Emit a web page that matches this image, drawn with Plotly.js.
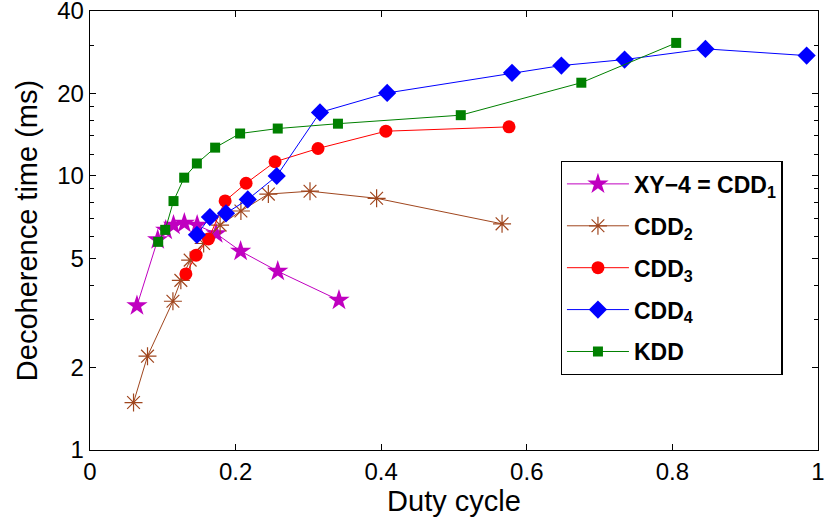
<!DOCTYPE html>
<html>
<head>
<meta charset="utf-8">
<script src="https://cdn.plot.ly/plotly-3.0.1.min.js"></script>
<style>html,body{margin:0;padding:0;background:#fff;}#chart{width:825px;height:527px;}</style>
</head>
<body>
<div id="chart"></div>
<script>
// ---- data ----
const seriesNames = ['XY\u22124 = CDD<sub>1</sub>', 'CDD<sub>2</sub>', 'CDD<sub>3</sub>', 'CDD<sub>4</sub>', 'KDD'];

const xy4_x = [0.0645, 0.0930, 0.1040, 0.1147, 0.1296, 0.1472, 0.1733, 0.2069, 0.2579, 0.3420];
const xy4_y = [3.36, 5.85, 6.34, 6.61, 6.72, 6.61, 6.16, 5.32, 4.49, 3.52];

const cdd2_x = [0.0598, 0.0790, 0.1139, 0.1248, 0.1376, 0.1561, 0.1787, 0.2073, 0.2450, 0.3022, 0.3937, 0.5660];
const cdd2_y = [1.49, 2.20, 3.49, 4.16, 4.93, 5.67, 6.62, 7.45, 8.59, 8.80, 8.29, 6.69];

const cdd3_x = [0.1317, 0.1458, 0.1627, 0.1856, 0.2144, 0.2542, 0.3132, 0.4064, 0.5756];
const cdd3_y = [4.39, 5.14, 5.89, 8.11, 9.41, 11.27, 12.60, 14.57, 15.11];

const cdd4_x = [0.1469, 0.1647, 0.1868, 0.2167, 0.2565, 0.3159, 0.4082, 0.5797, 0.6475, 0.7343, 0.8454, 0.9844];
const cdd4_y = [6.10, 7.08, 7.31, 8.21, 10.0, 17.06, 20.09, 23.8, 25.3, 26.6, 29.1, 27.5];

const kdd_x = [0.0937, 0.1033, 0.1147, 0.1294, 0.1468, 0.1719, 0.2062, 0.2579, 0.3406, 0.5093, 0.6749, 0.8052];
const kdd_y = [5.75, 6.36, 8.10, 9.86, 11.11, 12.69, 14.29, 14.90, 15.52, 16.67, 21.9, 30.6];

const xTickVals = [0, 0.2, 0.4, 0.6, 0.8, 1];
const xTickText = ['0', '0.2', '0.4', '0.6', '0.8', '1'];
const yTickVals = [1, 2, 5, 10, 20, 40];
const yTickText = ['1', '2', '5', '10', '20', '40'];
const yMinorVals = [3, 4, 6, 7, 8, 9, 12, 14, 16, 18, 30];

// ---- styles ----
const colors = ['#c000c0', '#a0461e', '#ff0000', '#0000ff', '#008000'];

function tr(x, y, i, sym, size, extra) {
  const m = Object.assign({symbol: sym, size: size, color: colors[i], line: {width: 0}}, extra || {});
  return {
    x: x, y: y, type: 'scatter', mode: 'lines+markers',
    name: '<b>' + seriesNames[i] + '</b>',
    legendgroup: 'g' + i,
    line: {color: colors[i], width: 1},
    marker: m
  };
}

const data = [
  tr(xy4_x, xy4_y, 0, 'star', 16),
  tr(cdd2_x, cdd2_y, 1, 'asterisk-open', 15, {line: {color: colors[1], width: 1.2}}),
  tr(cdd3_x, cdd3_y, 2, 'circle', 13),
  tr(cdd4_x, cdd4_y, 3, 'diamond', 14),
  tr(kdd_x, kdd_y, 4, 'square', 10)
];

const tickFont = {family: 'Liberation Sans, Arial, sans-serif', size: 24, color: '#000'};

const layout = {
  width: 825, height: 527,
  margin: {l: 90, r: 7, t: 11, b: 77},
  paper_bgcolor: '#fff', plot_bgcolor: '#fff',
  showlegend: true,
  xaxis: {
    range: [0, 1], tickmode: 'array', tickvals: xTickVals, ticktext: xTickText,
    ticks: 'inside', ticklen: 6, tickwidth: 1, tickcolor: '#000',
    showline: true, linecolor: '#000', linewidth: 1.3, mirror: 'ticks',
    showgrid: false, zeroline: false, tickfont: tickFont, ticklabeloverflow: 'allow',
    title: {text: 'Duty cycle', font: {family: 'Liberation Sans, Arial, sans-serif', size: 29, color: '#000'}, standoff: 5}
  },
  yaxis: {
    type: 'log', range: [0, 1.60215], tickmode: 'array', tickvals: yTickVals, ticktext: yTickText,
    ticks: 'inside', ticklen: 6, tickwidth: 1, tickcolor: '#000',
    minor: {tickvals: yMinorVals, ticks: 'inside', ticklen: 4, tickwidth: 1, tickcolor: '#000', showgrid: false},
    showline: true, linecolor: '#000', linewidth: 1.3, mirror: 'ticks',
    showgrid: false, zeroline: false, tickfont: tickFont, ticklabeloverflow: 'allow',
    title: {text: 'Decoherence time (ms)', font: {family: 'Liberation Sans, Arial, sans-serif', size: 29, color: '#000'}, standoff: 11}
  },
  legend: {
    x: 0.6465, y: 0.658, xanchor: 'left', yanchor: 'top',
    bgcolor: '#fff', bordercolor: '#000', borderwidth: 1.3,
    font: {family: 'Liberation Sans, Arial, sans-serif', size: 23, color: '#000'},
    itemwidth: 62, tracegroupgap: 9, traceorder: 'grouped'
  }
};

Plotly.newPlot('chart', data, layout, {staticPlot: true, displayModeBar: false});
</script>
</body>
</html>
